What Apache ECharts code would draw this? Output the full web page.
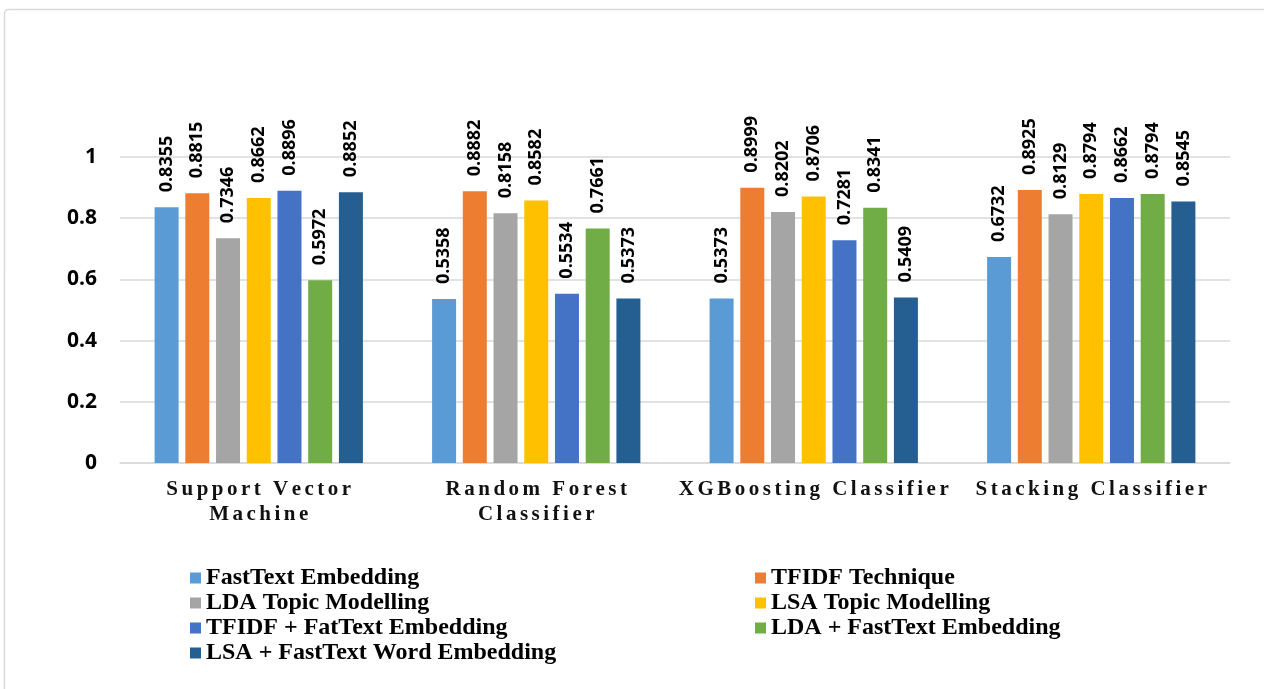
<!DOCTYPE html>
<html>
<head>
<meta charset="utf-8">
<title>Classifier comparison</title>
<script src="https://cdn.jsdelivr.net/npm/echarts@6/dist/echarts.min.js"></script>
<style>
  html, body { margin: 0; padding: 0; background: #ffffff; }
  #chart { width: 1264px; height: 689px; }
</style>
</head>
<body>
<div id="chart"></div>
<script>
// Classifiers on the x axis
const categories = [
  'Support Vector\nMachine',
  'Random Forest\nClassifier',
  'XGBoosting Classifier',
  'Stacking Classifier'
];

// Feature techniques (one series each)
const seriesNames = [
  'FastText Embedding',
  'TFIDF Technique',
  'LDA Topic Modelling',
  'LSA Topic Modelling',
  'TFIDF + FatText Embedding',
  'LDA + FastText Embedding',
  'LSA + FastText Word Embedding'
];

// Scores per classifier, in category order
const fastText      = [0.8355, 0.5358, 0.5373, 0.6732];
const tfidf         = [0.8815, 0.8882, 0.8999, 0.8925];
const lda           = [0.7346, 0.8158, 0.8202, 0.8129];
const lsa           = [0.8662, 0.8582, 0.8706, 0.8794];
const tfidfFastText = [0.8896, 0.5534, 0.7281, 0.8662];
const ldaFastText   = [0.5972, 0.7661, 0.8341, 0.8794];
const lsaFastText   = [0.8852, 0.5373, 0.5409, 0.8545];

const seriesValues = [fastText, tfidf, lda, lsa, tfidfFastText, ldaFastText, lsaFastText];

// Y axis ticks
const yMin = 0;
const yMax = 1;
const yStep = 0.2;

const colors = ['#5B9BD5', '#ED7D31', '#A5A5A5', '#FFC000', '#4472C4', '#70AD47', '#255E91'];

// Category labels are drawn with wide tracking (six-per-em space between letters)
function spaced(text) {
  return text.split('\n').map(line => line.split('').join('\u2006')).join('\n');
}

const chart = echarts.init(document.getElementById('chart'), null, { renderer: 'canvas' });

const legendText = {
  fontFamily: '"Liberation Serif", "Times New Roman", serif',
  fontWeight: 'bold',
  fontSize: 24,
  color: '#000',
  lineHeight: 20
};

function legendBlock(left, names) {
  return {
    orient: 'vertical',
    left: left,
    top: 566,
    padding: 0,
    itemWidth: 11,
    itemHeight: 11,
    itemGap: 1,
    icon: 'rect',
    textStyle: legendText,
    data: names
  };
}

chart.setOption({
  animation: false,
  color: colors,
  graphic: [{
    type: 'rect',
    shape: { x: 4.5, y: 9.5, width: 1300, height: 700, r: 4 },
    style: { fill: 'none', stroke: '#D9D9D9', lineWidth: 1.5 },
    silent: true
  }],
  grid: { left: 120, right: 34, top: 157, bottom: 226 },
  legend: [
    legendBlock(190, [seriesNames[0], seriesNames[2], seriesNames[4], seriesNames[6]]),
    legendBlock(755, [seriesNames[1], seriesNames[3], seriesNames[5]])
  ],
  xAxis: {
    type: 'category',
    data: categories,
    axisTick: { show: false },
    axisLine: { lineStyle: { color: '#D9D9D9', width: 1.5 } },
    axisLabel: {
      margin: 14,
      color: '#111',
      fontFamily: '"Liberation Serif", "Times New Roman", serif',
      fontWeight: 'bold',
      fontSize: 21,
      lineHeight: 25,
      interval: 0,
      formatter: spaced
    }
  },
  yAxis: {
    type: 'value',
    min: yMin,
    max: yMax,
    interval: yStep,
    axisLine: { show: false },
    axisTick: { show: false },
    splitLine: { lineStyle: { color: '#D9D9D9', width: 1.5 } },
    axisLabel: {
      margin: 23,
      color: '#000',
      fontFamily: '"Open Sans", sans-serif',
      fontWeight: 'bold',
      fontSize: 21,
      formatter: v => (Math.round(v * 10) / 10).toString()
    }
  },
  series: seriesNames.map((name, i) => ({
    name: name,
    type: 'bar',
    data: seriesValues[i],
    barWidth: 24,
    barGap: '28%',
    itemStyle: { color: colors[i] },
    label: {
      show: true,
      position: 'top',
      distance: 15,
      rotate: 90,
      align: 'left',
      verticalAlign: 'middle',
      color: '#000',
      fontFamily: '"Open Sans", sans-serif',
      fontWeight: 'bold',
      fontSize: 18,
      formatter: p => p.value.toFixed(4)
    }
  }))
});
</script>
</body>
</html>
